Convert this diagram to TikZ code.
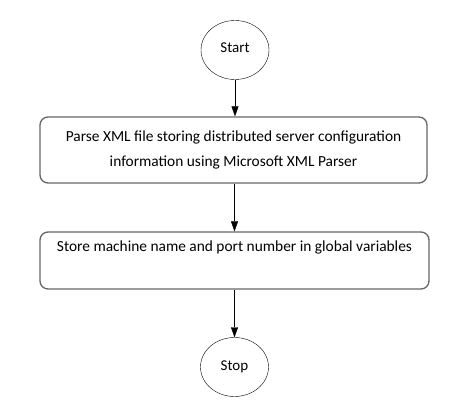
\documentclass[tikz,border=0pt]{standalone}
\usepackage{fontspec}
\setmainfont{Carlito}
\usetikzlibrary{shapes.geometric,arrows.meta}

\tikzset{
	terminal/.style = {draw, ellipse, thin, minimum width=68pt, minimum height=59pt, inner sep=0pt, font=\fontsize{15}{18}\selectfont},
	process/.style = {draw=black!60, line width=1.3pt, rounded corners=8pt, align=center, font=\fontsize{15.4}{25}\selectfont},
	flow/.style = {-{Triangle[length=10pt, width=7pt]}, thin}
}

\begin{document}
\begin{tikzpicture}[x = 1pt, y = 1pt]
				\useasboundingbox (0, 0) rectangle (474, 416);
				
				% start and stop
				\node[terminal] (start) at (235, 366) {\raisebox{4pt}{Start}};
				\node[terminal] (stop) at (234.5, 49) {\raisebox{2pt}{Stop}};
				
				% steps
				\node[process, minimum width=387pt, minimum height=66pt] (parse) at (233.5, 266)
					{Parse XML file storing distributed server configuration\\information using Microsoft XML Parser};
				\node[process, minimum width=389pt, inner ysep=4.5pt, text height=15pt, text depth=33pt] (store) at (234.5, 155.5)
					{Store machine name and port number in global variables};
				
				% arrows
				\draw[flow] (start.south) -- (start.south |- parse.north);
				\draw[flow] (parse.south -| store) -- (store.north);
				\draw[flow] (store.south -| stop) -- (stop.north);
				
\end{tikzpicture}
\end{document}
